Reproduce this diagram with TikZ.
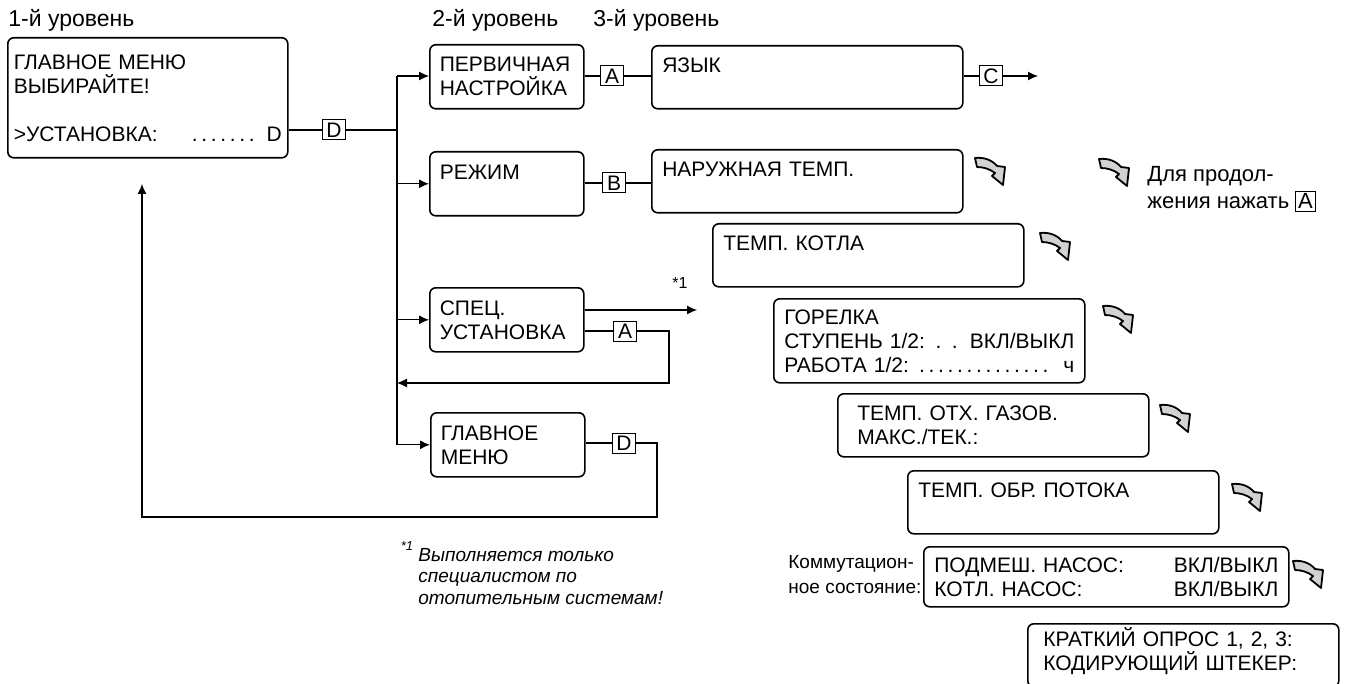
\documentclass[tikz,border=0pt]{standalone}
\usepackage{fontspec}
\setmainfont{Liberation Sans}
\usetikzlibrary{arrows.meta}
\newcommand{\pushright}{\hspace{0pt plus 1fill}}
\newcommand{\dotsrun}[1]{\hbox to #1{\leaders\hbox to 4.75pt{\hss.\hss}\hfil}}
\newcommand{\scrdotfill}{\leaders\hbox to 4.75pt{\hss.\hss}\hskip 0pt plus 1fill\relax}
\begin{document}
\begin{tikzpicture}[x=0.5pt, y=-0.5pt, font=\fontsize{10.5}{12}\selectfont,
  >={Latex[length=5pt,width=4.5pt]},
  wire/.style={line width=0.55pt},
  menu/.style={draw, line width=0.8pt, rounded corners=3pt, anchor=north west, align=left, inner ysep=0pt},
  lvltwo/.style={menu, text width=67pt, inner xsep=5pt, minimum height=32pt},
  lvlthree/.style={menu, text width=145pt, inner xsep=5.25pt, minimum height=31.5pt},
  key/.style={draw, line width=0.5pt, inner sep=0pt, minimum width=11.5pt, minimum height=10pt},
  label/.style={inner sep=0pt, align=left},
  nextarrow/.pic={\draw[fill=gray!35, line width=0.9pt, line join=round]
    (0,1) .. controls (9,0) and (17,3) .. (22,9) -- (30,10) -- (28,28)
    -- (17,19) -- (20,16) .. controls (15,12) and (8,10) .. (2,10) -- cycle;}]
\useasboundingbox (0,0) rectangle (1348,684);
\clip (0,0) rectangle (1348,684);
% Levels
\node[label, anchor=west, font=\fontsize{11.5}{13}\selectfont] (lvla) at (8,20) {1-й уровень};
\node[label, anchor=west, font=\fontsize{11.5}{13}\selectfont] (lvlb) at (432,20) {2-й уровень};
\node[label, anchor=west, font=\fontsize{11.5}{13}\selectfont] (lvlc) at (593,20) {3-й уровень};
% Level 1
\node[menu, text width=134pt, inner xsep=3pt, minimum height=60pt] (main) at (7,37)
  {ГЛАВНОЕ МЕНЮ\\ВЫБИРАЙТЕ!\\[12pt]>УСТАНОВКА:\pushright\dotsrun{33.25pt}\hspace{5pt}D\hspace{6.5pt}};
\node[key] (dkeya) at (334,130) {D};
% Level 2
\node[lvltwo] (setup) at (429,44) {ПЕРВИЧНАЯ\\НАСТРОЙКА};
\node[lvltwo] (mode) at (429,151) {РЕЖИМ\\ \mbox{}};
\node[lvltwo] (special) at (429,287) {СПЕЦ.\\УСТАНОВКА};
\node[lvltwo] (back) at (430,412) {ГЛАВНОЕ\\МЕНЮ};
\node[key] (akeya) at (612,76) {A};
\node[key] (bkey) at (614,183) {B};
\node[key] (akeyb) at (625,331) {A};
\node[key] (dkeyb) at (624,443) {D};
% Level 3
\node[lvlthree] (lang) at (651,45) {ЯЗЫК\\ \mbox{}};
\node[key] (ckey) at (991,76) {C};
\node[lvlthree] (outside) at (651,149) {НАРУЖНАЯ ТЕМП.\\ \mbox{}};
\node[lvlthree] (boiler) at (712,223) {ТЕМП. КОТЛА\\ \mbox{}};
\node[lvlthree, minimum height=42pt] (burner) at (773,298)
  {ГОРЕЛКА\\СТУПЕНЬ 1/2: . .\pushright ВКЛ/ВЫКЛ\\РАБОТА 1/2:\hspace{4pt}\scrdotfill\hspace{5pt}ч};
\node[lvlthree] (flue) at (837,393) {\hspace*{4.5pt}ТЕМП. ОТХ. ГАЗОВ.\\\hspace*{4.5pt}МАКС./ТЕК.:};
\node[lvlthree] (retflow) at (907,470) {ТЕМП. ОБР. ПОТОКА\\ \mbox{}};
\node[menu, text width=172pt, inner xsep=5.25pt, minimum height=30pt] (pumps) at (923,546)
  {ПОДМЕШ. НАСОС:\pushright ВКЛ/ВЫКЛ\\КОТЛ. НАСОС:\pushright ВКЛ/ВЫКЛ};
\node[lvlthree] (query) at (1027,623)
  {\hspace*{2.5pt}КРАТКИЙ ОПРОС 1, 2, 3:\\\hspace*{2.5pt}КОДИРУЮЩИЙ ШТЕКЕР:\\[-6pt]\mbox{}};
\node[label, anchor=west, font=\fontsize{9.5}{12.5}\selectfont] (switchstate) at (788,575)
  {Коммутацион-\\ное состояние:};
% Legend and footnote
\node[label, anchor=west, font=\fontsize{11}{13.5}\selectfont] (legend) at (1147,189)
  {Для продол-\\жения нажать {\setlength{\fboxsep}{1pt}\fbox{A}}};
\node[label, font=\fontsize{8}{9}\selectfont] (starone) at (680,283) {*1};
\node[label, font=\fontsize{6.5}{7}\selectfont\itshape] (notemark) at (407,546) {*1};
\node[label, anchor=north west, font=\fontsize{9.5}{10.75}\selectfont\itshape] (note) at (418,548)
  {Выполняется только\\специалистом по\\отопительным системам!};
% Arrows
\coordinate (bustop) at (397,76);
\coordinate (langout) at (1038,76);
\coordinate (specout) at (697,310);
\coordinate (specturn) at (669,383);
\coordinate (backturn) at (657,517);
\coordinate (backtip) at (142,184);
\draw[wire] (dkeya.west -| main.east) -- (dkeya);
\draw[wire] (dkeya) -- (dkeya -| bustop);
\draw[wire] (bustop) -- (bustop |- back.west);
\draw[wire, ->] (bustop) -- (setup.west |- bustop);
\draw[wire, ->] (bustop |- mode.west) -- (mode.west);
\draw[wire, ->] (bustop |- special.west) -- (special.west);
\draw[wire, ->] (bustop |- back.west) -- (back.west);
\draw[wire] (setup.east |- akeya) -- (akeya) -- (akeya -| lang.west);
\draw[wire] (lang.east |- ckey) -- (ckey);
\draw[wire, ->] (ckey) -- (langout);
\draw[wire] (mode.east |- bkey) -- (bkey) -- (bkey -| outside.west);
\draw[wire, ->] (special.east |- specout) -- (specout);
\draw[wire] (special.east |- akeyb) -- (akeyb);
\draw[wire, ->] (akeyb.east) -| (specturn) -- (specturn -| bustop);
\draw[wire] (back.east |- dkeyb) -- (dkeyb);
\draw[wire, ->] (dkeyb.east) -| (backturn) -- (backturn -| backtip) -- (backtip);
% Next screen
\pic at (975,157) {nextarrow};
\pic at (1099,158) {nextarrow};
\pic at (1040,232) {nextarrow};
\pic at (1103,305) {nextarrow};
\pic at (1160,404) {nextarrow};
\pic at (1232,483) {nextarrow};
\pic at (1293,560) {nextarrow};
\end{tikzpicture}
\end{document}
